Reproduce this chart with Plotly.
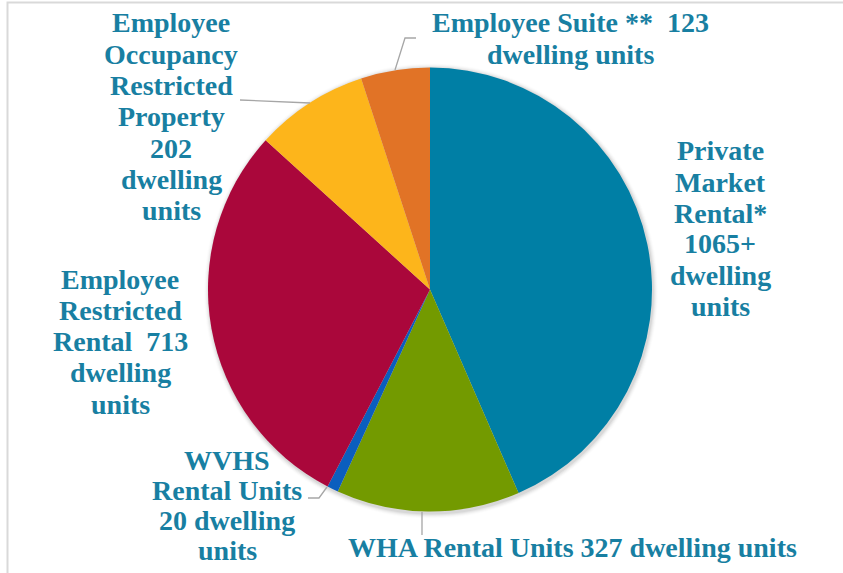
import plotly.graph_objects as go

W, H = 843, 573

# Data
categories = ["Private Market Rental*", "WHA Rental Units", "WVHS Rental Units",
              "Employee Restricted Rental", "Employee Occupancy Restricted Property",
              "Employee Suite **"]
units = [1065, 327, 20, 713, 202, 123]
colors = ["#007FA5", "#739A00", "#0B5EBE", "#AA073B", "#FDB51B", "#E17326"]
label_lines = [
    ["Private", "Market", "Rental*", "1065+", "dwelling", "units"],
    ["WHA Rental Units 327 dwelling units"],
    ["WVHS", "Rental Units", "20 dwelling", "units"],
    ["Employee", "Restricted", "Rental  713", "dwelling", "units"],
    ["Employee", "Occupancy", "Restricted", "Property", "202", "dwelling", "units"],
    ["Employee Suite **  123", "dwelling units"],
]
# label layout in pixels: centre x, first line y, line spacing
label_layout = [(720, 151, 31), (572, 547, 31), (227, 460, 30),
                (120, 279, 31.25), (171, 23, 31.33), (570, 23, 32)]

def px(x, y):
    return x / W, 1 - y / H

cx, cy, r = 430, 289.5, 222
x0, y0 = px(cx - r, cy + r)
x1, y1 = px(cx + r, cy - r)

fig = go.Figure()
fig.add_trace(go.Pie(
    labels=categories, values=units, sort=False, direction="clockwise", rotation=0,
    marker=dict(colors=colors, line=dict(width=0)),
    textinfo="none", hoverinfo="label+value", showlegend=False,
    domain=dict(x=[x0, x1], y=[y0, y1]),
))

shapes = []
# soft shadow behind pie
for i, a in enumerate([0.05, 0.04, 0.03, 0.02, 0.012]):
    d = i + 1
    ax0, ay0 = px(cx - r - d + 1, cy + r + d + 2)
    ax1, ay1 = px(cx + r + d + 1, cy - r - d + 1)
    shapes.append(dict(type="circle", xref="paper", yref="paper",
                       x0=ax0, y0=ay0, x1=ax1, y1=ay1,
                       fillcolor=f"rgba(0,0,0,{a})", line=dict(width=0), layer="below"))

# chart border
bx0, by0 = px(7.5, 600)
bx1, by1 = px(860, 2.5)
shapes.append(dict(type="rect", xref="paper", yref="paper", x0=bx0, y0=by0, x1=bx1, y1=by1,
                   line=dict(color="#D9D9D9", width=2), fillcolor="rgba(0,0,0,0)", layer="below"))

# leader lines
leaders = [
    [(395, 70), (405, 38), (416, 38)],
    [(240, 100), (310, 103)],
    [(308, 498), (319, 498), (327, 487)],
    [(422, 512), (422, 535)],
]
for pts in leaders:
    path = "M " + " L ".join(f"{px(x, y)[0]:.5f},{px(x, y)[1]:.5f}" for x, y in pts)
    shapes.append(dict(type="path", xref="paper", yref="paper", path=path,
                       line=dict(color="#A6A6A6", width=1.3)))

annotations = []
for lines, (lx, ly, sp) in zip(label_lines, label_layout):
    for k, line in enumerate(lines):
        ax, ay = px(lx, ly + k * sp)
        annotations.append(dict(text=line, x=ax, y=ay, xref="paper", yref="paper",
                                xanchor="center", yanchor="middle", align="center",
                                showarrow=False,
                                font=dict(family="Liberation Serif", size=28,
                                          color="#187FA2", weight="bold")))

fig.update_layout(
    width=W, height=H, margin=dict(l=0, r=0, t=0, b=0),
    paper_bgcolor="white", plot_bgcolor="white",
    shapes=shapes, annotations=annotations,
    font=dict(family="Liberation Serif"),
)
fig.write_html("out.html", config={"displayModeBar": False},
               post_script="document.body.style.margin='0';document.body.style.overflow='hidden';")
